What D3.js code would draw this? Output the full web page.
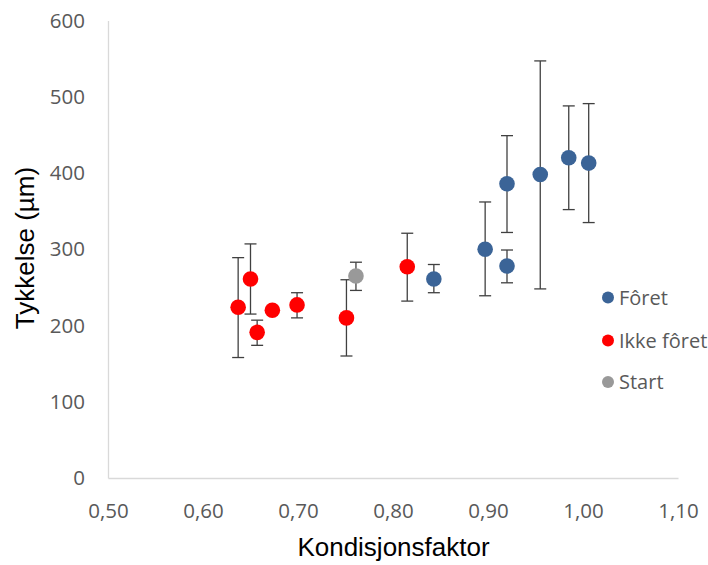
<!DOCTYPE html>
<html>
<head>
<meta charset="utf-8">
<script src="https://cdn.jsdelivr.net/npm/d3@7"></script>
<style>
html,body{margin:0;padding:0;background:#fff;}
svg{display:block;}
</style>
</head>
<body>
<svg id="chart" width="708" height="565"></svg>
<script>
// ---- data ----
const foretX  = [0.843, 0.897, 0.920, 0.920, 0.955, 0.985, 1.006];
const foretY  = [261, 300, 386, 278, 398, 420, 413];
const foretLo = [243, 239, 322, 256, 248, 352, 335];
const foretHi = [280, 362, 449, 299, 547, 488, 491];

const ikkeX  = [0.637, 0.650, 0.657, 0.673, 0.699, 0.751, 0.815];
const ikkeY  = [224, 261, 191, 220, 227, 210, 277];
const ikkeLo = [158, 215, 174, null, 210, 160, 232];
const ikkeHi = [289, 307, 207, null, 243, 260, 321];

const startX  = [0.761];
const startY  = [265];
const startLo = [246];
const startHi = [283];

const xTicks = [0.5, 0.6, 0.7, 0.8, 0.9, 1.0, 1.1];
const yTicks = [0, 100, 200, 300, 400, 500, 600];
const seriesNames = ["Fôret", "Ikke fôret", "Start"];
const seriesColors = ["#3b6497", "#ff0000", "#999999"];
const xTitle = "Kondisjonsfaktor";
const yTitle = "Tykkelse (µm)";

// ---- build ----
function build(xs, ys, lo, hi){
  return xs.map((x,i)=>({x:x, y:ys[i], lo:lo[i], hi:hi[i]}));
}
const series = [
  {name: seriesNames[0], color: seriesColors[0], pts: build(foretX, foretY, foretLo, foretHi)},
  {name: seriesNames[1], color: seriesColors[1], pts: build(ikkeX, ikkeY, ikkeLo, ikkeHi)},
  {name: seriesNames[2], color: seriesColors[2], pts: build(startX, startY, startLo, startHi)}
];

const svg = d3.select("#chart");
const x = d3.scaleLinear().domain([0.5, 1.1]).range([108, 678]);
const y = d3.scaleLinear().domain([0, 600]).range([478, 20.5]);

const fmt = v => d3.format(".2f")(v).replace(".", ",");

// axes
const gx = svg.append("g").attr("transform", "translate(0,478)")
  .call(d3.axisBottom(x).tickValues(xTicks).tickFormat(fmt).tickSize(0).tickSizeOuter(0).tickPadding(25));
const gy = svg.append("g").attr("transform", "translate(108,0)")
  .call(d3.axisLeft(y).tickValues(yTicks).tickFormat(d3.format("d")).tickSize(0).tickSizeOuter(0).tickPadding(23));
[gx, gy].forEach(g => {
  g.select(".domain").attr("stroke", "#d9d9d9").attr("stroke-width", 1.3);
  g.selectAll("text").attr("fill", "#595959").style("font-family", "'Open Sans', sans-serif").style("font-size", "20.5px");
});

// error bars
const eb = svg.append("g").attr("stroke", "#404040").attr("stroke-width", 1.3).attr("fill", "none");
series.forEach(s => {
  s.pts.filter(p => p.lo != null).forEach(p => {
    const cx = x(p.x);
    eb.append("line").attr("x1", cx).attr("x2", cx).attr("y1", y(p.lo)).attr("y2", y(p.hi));
    eb.append("line").attr("x1", cx-6).attr("x2", cx+6).attr("y1", y(p.lo)).attr("y2", y(p.lo));
    eb.append("line").attr("x1", cx-6).attr("x2", cx+6).attr("y1", y(p.hi)).attr("y2", y(p.hi));
  });
});

// points
series.forEach(s => {
  svg.append("g").selectAll("circle").data(s.pts).join("circle")
    .attr("cx", d => x(d.x)).attr("cy", d => y(d.y)).attr("r", 7.8)
    .attr("fill", s.color);
});

// legend
const lg = svg.append("g");
const legY = [297.5, 340.5, 382];
series.forEach((s, i) => {
  lg.append("circle").attr("cx", 608).attr("cy", legY[i]).attr("r", 6).attr("fill", s.color);
  lg.append("text").attr("x", 619).attr("y", legY[i]).attr("dy", "0.36em")
    .attr("fill", "#595959").style("font-family", "'Open Sans', sans-serif").style("font-size", "20px")
    .text(s.name);
});

// titles
svg.append("text").attr("x", 393.5).attr("y", 556).attr("text-anchor", "middle")
  .style("font-family", "'Liberation Sans', Arial, sans-serif").style("font-size", "26px").attr("fill", "#000")
  .text(xTitle);
svg.append("text").attr("transform", "translate(34,248) rotate(-90)").attr("text-anchor", "middle")
  .style("font-family", "'Liberation Sans', Arial, sans-serif").style("font-size", "26px").attr("fill", "#000")
  .text(yTitle);
</script>
</body>
</html>
